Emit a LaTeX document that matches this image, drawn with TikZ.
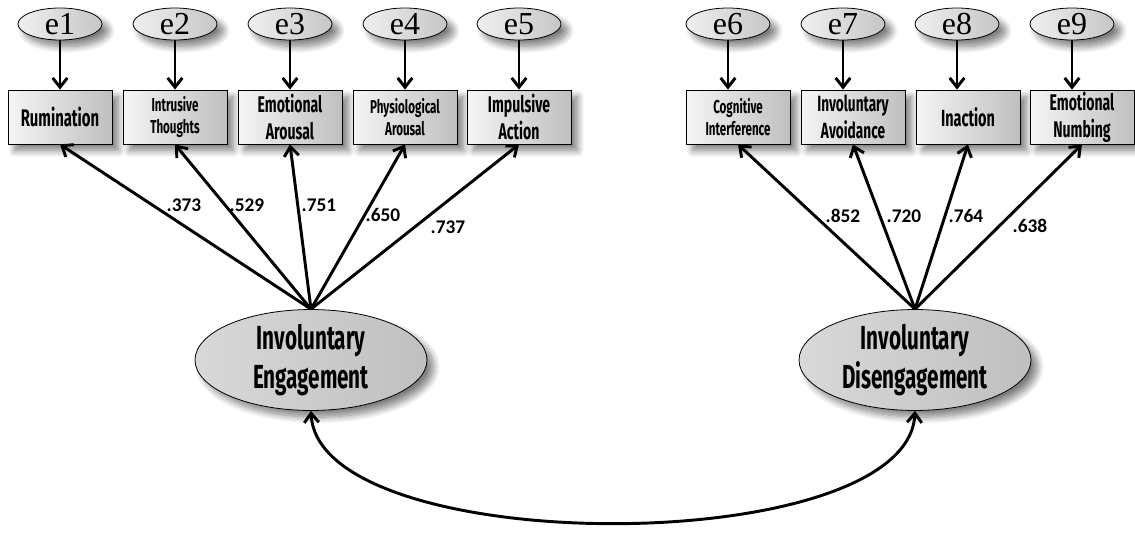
\documentclass[tikz,border=0pt]{standalone}
\usepackage{fontspec}
\setmainfont{Liberation Serif}
\newfontfamily\agencyfont[FakeStretch=0.62]{Fira Sans}
\newfontfamily\calfont{Carlito}
\usetikzlibrary{arrows.meta,shapes.geometric,shadows.blur}

\tikzset{
  myshadow/.style={blur shadow={shadow xshift=5pt,shadow yshift=-5pt,shadow blur radius=5pt,shadow blur steps=10,shadow opacity=50}},
  errnode/.style={ellipse,draw,line width=0.6pt,inner sep=0pt,minimum width=63pt,minimum height=24pt,
    left color=gray!12,right color=gray!45,myshadow,font=\fontsize{24}{24}\selectfont},
  obsbox/.style={rectangle,draw,line width=0.6pt,inner sep=1pt,minimum width=78pt,minimum height=40.5pt,
    left color=gray!8,right color=gray!50,myshadow,align=center},
  latnode/.style={ellipse,draw,line width=0.6pt,inner sep=0pt,minimum width=174pt,minimum height=70.5pt,
    left color=gray!30,middle color=gray!8,right color=gray!50,myshadow,align=center,
    font=\agencyfont\bfseries\fontsize{25}{29}\selectfont},
  coef/.style={font=\calfont\bfseries\fontsize{14.5}{14.5}\selectfont,inner sep=0.75pt},
  arr/.style={line width=2.2pt,-{Straight Barb[length=7pt,width=11pt,line width=2.2pt]}},
  dblarr/.style={line width=2.2pt,{Straight Barb[length=7pt,width=11pt,line width=2.2pt]}-{Straight Barb[length=7pt,width=11pt,line width=2.2pt]}}
}

\newcommand{\obsfont}[2]{\agencyfont\bfseries\fontsize{#1}{#2}\selectfont}

\begin{document}
\begin{tikzpicture}[x=0.75pt,y=0.75pt,yscale=-1,xscale=1]
    \useasboundingbox (0,0) rectangle (1135,546);
    %Shape: Ellipse (errors)
    \node [errnode] (e1) at (60,24) {e1};
    \node [errnode] (e2) at (175,24) {e2};
    \node [errnode] (e3) at (290,24) {e3};
    \node [errnode] (e4) at (405,24) {e4};
    \node [errnode] (e5) at (519,24) {e5};
    \node [errnode] (e6) at (728,24) {e6};
    \node [errnode] (e7) at (843,24) {e7};
    \node [errnode] (e8) at (957,24) {e8};
    \node [errnode] (e9) at (1072,24) {e9};
    %Shape: Rectangle (observed)
    \node [obsbox,font=\obsfont{18}{18}] (rum) at (60,117) {Rumination};
    \node [obsbox,font=\obsfont{14}{17}] (intr) at (175,117) {Intrusive\\Thoughts};
    \node [obsbox,font=\obsfont{17}{20}] (emoa) at (290,117) {Emotional\\Arousal};
    \node [obsbox,font=\obsfont{14}{17}] (phys) at (405,117) {Physiological\\Arousal};
    \node [obsbox,font=\obsfont{17}{20}] (imp) at (519,117) {Impulsive\\Action};
    \node [obsbox,font=\obsfont{14}{17}] (cogn) at (738,117) {Cognitive\\Interference};
    \node [obsbox,font=\obsfont{16.5}{20}] (avoid) at (853,117) {Involuntary\\Avoidance};
    \node [obsbox,font=\obsfont{17.5}{18}] (inac) at (968,117) {Inaction};
    \node [obsbox,font=\obsfont{17}{20}] (numb) at (1082,117) {Emotional\\Numbing};
    %Shape: Ellipse (latent)
    \node [latnode] (eng) at (311,360) {Involuntary\\Engagement};
    \node [latnode] (dis) at (915,360) {Involuntary\\Disengagement};
    % error arrows
    \draw [arr] (e1) -- (e1 |- rum.north);
    \draw [arr] (e2) -- (e2 |- intr.north);
    \draw [arr] (e3) -- (e3 |- emoa.north);
    \draw [arr] (e4) -- (e4 |- phys.north);
    \draw [arr] (e5) -- (e5 |- imp.north);
    \draw [arr] (e6) -- (e6 |- cogn.north);
    \draw [arr] (e7) -- (e7 |- avoid.north);
    \draw [arr] (e8) -- (e8 |- inac.north);
    \draw [arr] (e9) -- (e9 |- numb.north);
    % loadings
    \draw [arr] (eng.north) -- (rum.south);
    \draw [arr] (eng.north) -- (intr.south);
    \draw [arr] (eng.north) -- (emoa.south);
    \draw [arr] (eng.north) -- (phys.south);
    \draw [arr] (eng.north) -- (imp.south);
    \draw [arr] (dis.north) -- (cogn.south);
    \draw [arr] (dis.north) -- (avoid.south);
    \draw [arr] (dis.north) -- (inac.south);
    \draw [arr] (dis.north) -- (numb.south);
    % Text Node
    \node [coef] (l1) at (184,205) {.373};
    \node [coef] (l2) at (247,205) {.529};
    \node [coef] (l3) at (319,205) {.751};
    \node [coef] (l4) at (383,215) {.650};
    \node [coef] (l5) at (448,227) {.737};
    \node [coef] (l6) at (843,216) {.852};
    \node [coef] (l7) at (904,216) {.720};
    \node [coef] (l8) at (966,216) {.764};
    \node [coef] (l9) at (1030,226) {.638};
    % covariance
    \draw [dblarr] (eng.south) .. controls (318,560) and (908,560) .. (dis.south);
\end{tikzpicture}
\end{document}
